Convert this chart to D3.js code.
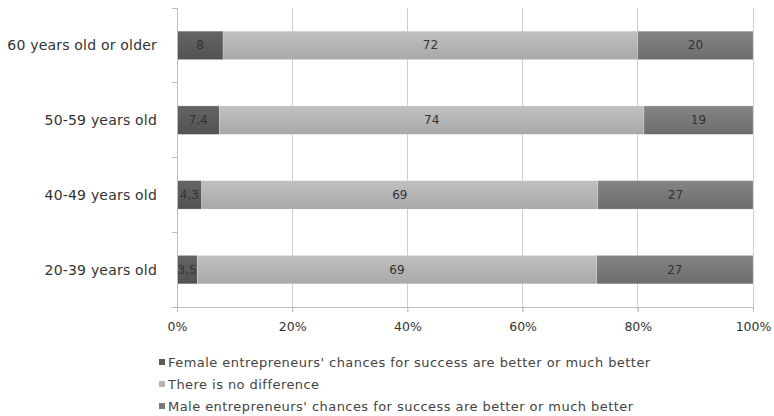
<!DOCTYPE html>
<html>
<head>
<meta charset="utf-8">
<script src="https://cdn.jsdelivr.net/npm/d3@7/dist/d3.min.js"></script>
<style>
  html, body { margin: 0; padding: 0; background: #fff; }
  svg { display: block; font-family: "DejaVu Sans", sans-serif; }
</style>
</head>
<body>
<svg id="chart" width="774" height="416"></svg>
<script>
// Age groups, top to bottom
const categories = ["60 years old or older", "50-59 years old", "40-49 years old", "20-39 years old"];
// Shares per answer (labels as printed; bars are stacked to 100%)
const femaleBetter = [8, 7.4, 4.3, 3.5];
const noDifference = [72, 74, 69, 69];
const maleBetter = [20, 19, 27, 27];
const seriesNames = [
  "Female entrepreneurs' chances for success are better or much better",
  "There is no difference",
  "Male entrepreneurs' chances for success are better or much better"
];
const xTicks = [0, 0.2, 0.4, 0.6, 0.8, 1];

const svg = d3.select("#chart");
const margin = { left: 177, right: 21, top: 8, bottom: 109 };
const W = 774, H = 416;
const innerW = W - margin.left - margin.right;
const innerH = H - margin.top - margin.bottom;

const defs = svg.append("defs");
const palette = [
  { id: "gFemale", top: "#656565", bottom: "#525252", swatch: "#5a5a5a" },
  { id: "gNone", top: "#c0c0c0", bottom: "#a8a8a8", swatch: "#b4b4b4" },
  { id: "gMale", top: "#858585", bottom: "#6c6c6c", swatch: "#787878" }
];
palette.forEach(p => {
  const g = defs.append("linearGradient").attr("id", p.id)
    .attr("x1", 0).attr("y1", 0).attr("x2", 0).attr("y2", 1);
  g.append("stop").attr("offset", "0%").attr("stop-color", p.top);
  g.append("stop").attr("offset", "100%").attr("stop-color", p.bottom);
});

const rows = categories.map((c, i) => ({
  cat: c,
  vals: [femaleBetter[i], noDifference[i], maleBetter[i]]
}));

const x = d3.scaleLinear().domain([0, 1]).range([0, innerW]);
const y = d3.scaleBand().domain(categories).range([0, innerH]).paddingInner(0.62).paddingOuter(0.31);

const g = svg.append("g").attr("transform", `translate(${margin.left},${margin.top})`);

// Vertical gridlines
g.selectAll("line.grid").data(xTicks.slice(1)).enter().append("line")
  .attr("x1", d => x(d)).attr("x2", d => x(d))
  .attr("y1", 0).attr("y2", innerH + 5)
  .attr("stroke", "#cfcfcf").attr("stroke-width", 1).attr("shape-rendering", "crispEdges");

// Stacked bars
rows.forEach(r => {
  const total = d3.sum(r.vals);
  let acc = 0;
  r.vals.forEach((v, k) => {
    const x0 = acc / total, x1 = (acc + v) / total;
    acc += v;
    g.append("rect")
      .attr("x", x(x0)).attr("width", x(x1) - x(x0))
      .attr("y", y(r.cat)).attr("height", y.bandwidth())
      .attr("fill", `url(#${palette[k].id})`)
      .attr("stroke", "rgba(255,255,255,0.35)").attr("stroke-width", 0.6);
    g.append("text")
      .attr("x", x((x0 + x1) / 2)).attr("y", y(r.cat) + y.bandwidth() / 2)
      .attr("text-anchor", "middle").attr("dominant-baseline", "central")
      .attr("font-size", 12).attr("fill", "#333")
      .text(String(v).replace(".", ","));
  });
});

// Left axis with category ticks at band boundaries
const step = innerH / categories.length;
const axisLeft = g.append("g");
axisLeft.append("line").attr("x1", 0).attr("x2", 0).attr("y1", 0).attr("y2", innerH)
  .attr("stroke", "#bdbdbd").attr("shape-rendering", "crispEdges");
d3.range(categories.length + 1).forEach(i => {
  axisLeft.append("line").attr("x1", -5).attr("x2", 0)
    .attr("y1", i * step).attr("y2", i * step)
    .attr("stroke", "#bdbdbd").attr("shape-rendering", "crispEdges");
});
g.selectAll("text.cat").data(categories).enter().append("text")
  .attr("x", -20).attr("y", d => y(d) + y.bandwidth() / 2)
  .attr("text-anchor", "end").attr("dominant-baseline", "central")
  .attr("font-size", 14).attr("letter-spacing", 0.2).attr("fill", "#333")
  .text(d => d);

// Bottom axis
const xAxis = d3.axisBottom(x).tickValues(xTicks).tickFormat(d3.format(".0%")).tickSize(5).tickPadding(10);
const gx = g.append("g").attr("transform", `translate(0,${innerH})`).call(xAxis);
gx.select(".domain").attr("stroke", "#bdbdbd");
gx.selectAll(".tick line").attr("stroke", "#bdbdbd");
gx.selectAll(".tick text").attr("font-size", 12.5).attr("fill", "#333").attr("font-family", "DejaVu Sans, sans-serif");

// Legend
const legend = svg.append("g").attr("transform", "translate(159,362)");
seriesNames.forEach((name, i) => {
  const row = legend.append("g").attr("transform", `translate(0,${i * 22})`);
  row.append("rect").attr("x", 0).attr("y", -3).attr("width", 6).attr("height", 6)
    .attr("fill", palette[i].swatch);
  row.append("text").attr("x", 9).attr("y", 0).attr("dominant-baseline", "central")
    .attr("font-size", 13).attr("letter-spacing", 0.45).attr("fill", "#444").text(name);
});
</script>
</body>
</html>
